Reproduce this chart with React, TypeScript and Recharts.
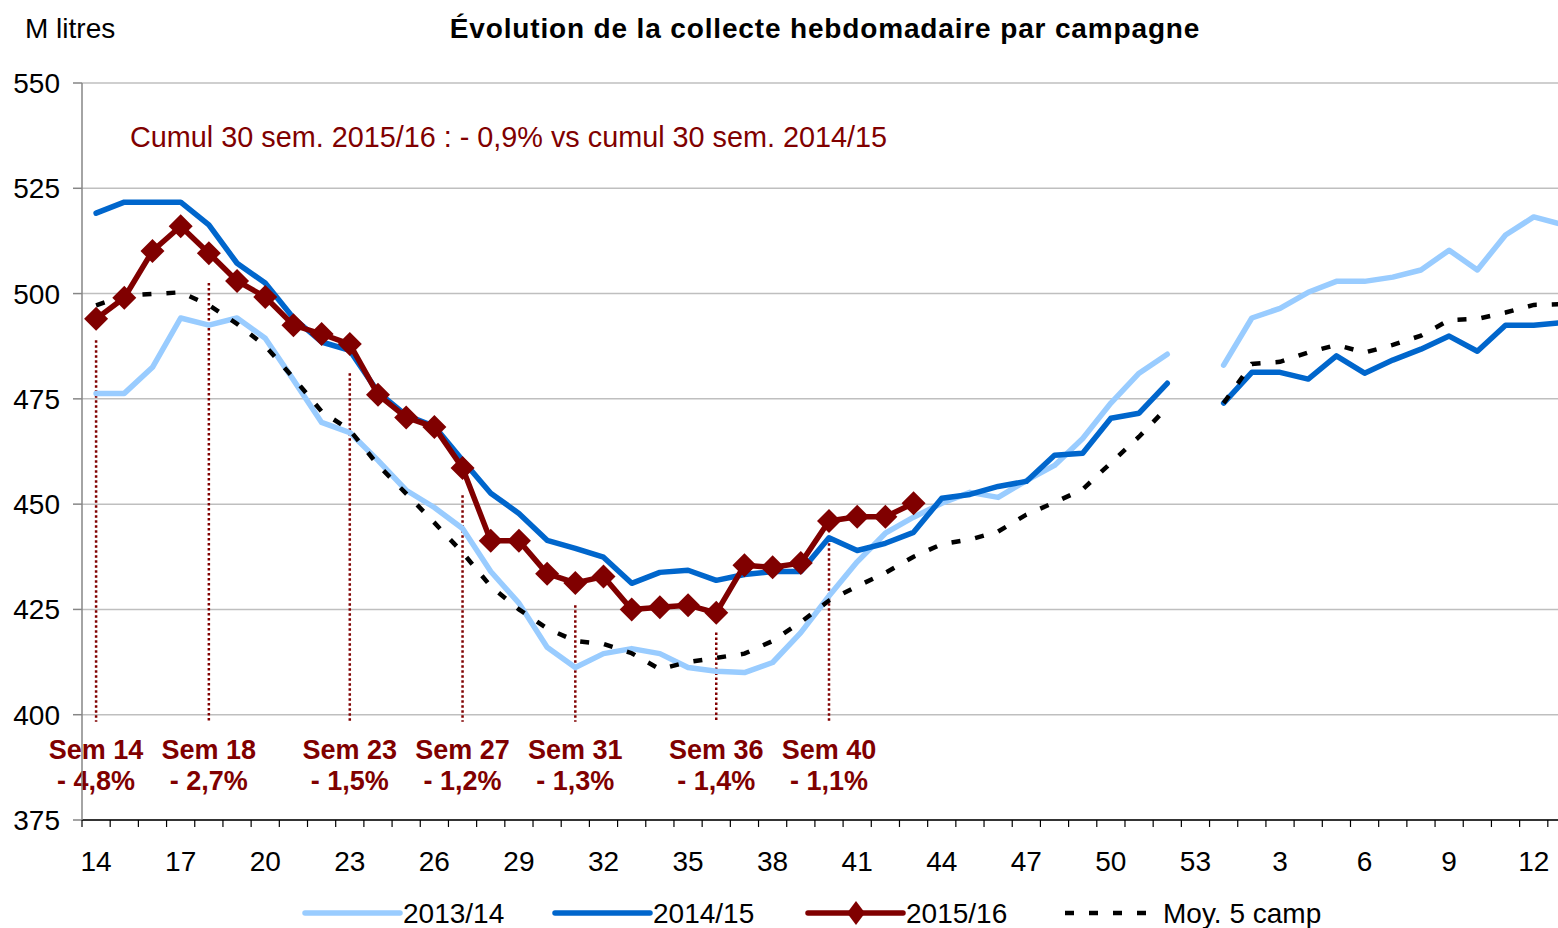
import React from "react";
import { LineChart, Line, XAxis, YAxis, CartesianGrid, ReferenceLine } from "recharts";

// semaines de campagne : 14 → 53 puis 1 → 13
const weeks = [
  "14", "15", "16", "17", "18", "19", "20", "21", "22", "23", "24", "25", "26", "27",
  "28", "29", "30", "31", "32", "33", "34", "35", "36", "37", "38", "39", "40", "41",
  "42", "43", "44", "45", "46", "47", "48", "49", "50", "51", "52", "53",
  "1", "2", "3", "4", "5", "6", "7", "8", "9", "10", "11", "12", "13",
];

const s1314 = [
  476.3, 476.3, 482.5, 494.2, 492.5, 494.2, 489.4, 479.5, 469.4, 467.0, 460.4, 453.3, 449.2, 444.2,
  434.0, 426.5, 416.0, 411.2, 414.5, 415.7, 414.5, 411.2, 410.3, 410.0, 412.4, 419.5, 428.2, 436.3,
  443.1, 446.9, 450.2, 452.8, 451.6, 455.6, 459.2, 465.6, 474.0, 481.1, 485.6, null,
  483.0, 494.2, 496.5, 500.3, 502.9, 502.9, 503.9, 505.6, 510.3, 505.6, 513.9, 518.2, 516.4,
];

const s1415 = [
  519.1, 521.7, 521.7, 521.7, 516.3, 507.2, 502.5, 494.2, 488.5, 486.5, 476.6, 471.1, 468.5, 460.4,
  452.6, 447.8, 441.4, 439.5, 437.4, 431.2, 433.8, 434.3, 431.9, 433.3, 434.0, 434.0, 442.0, 439.0,
  440.7, 443.3, 451.4, 452.3, 454.2, 455.4, 461.6, 462.1, 470.4, 471.6, 478.7, null,
  474.0, 481.3, 481.3, 479.7, 485.2, 481.1, 484.2, 486.8, 489.9, 486.3, 492.5, 492.5, 493.1,
];

const s1516 = [
  494.0, 499.0, 510.1, 516.0, 509.6, 503.0, 499.2, 492.5, 490.4, 488.0, 476.0, 470.6, 468.3, 458.6,
  441.3, 441.3, 433.5, 431.3, 432.8, 425.0, 425.5, 426.0, 424.2, 435.5, 435.0, 436.0, 446.0, 447.0,
  447.0, 450.2,
];

const avg5 = [
  497.2, 499.5, 499.9, 500.3, 497.3, 492.8, 487.6, 480.0, 472.0, 467.6, 459.3, 452.5, 445.6, 438.5,
  430.5, 425.0, 420.5, 417.5, 416.8, 414.6, 410.8, 412.5, 413.5, 414.5, 417.5, 422.0, 427.1, 430.5,
  433.7, 437.5, 440.5, 441.6, 443.5, 447.5, 450.4, 453.5, 459.8, 466.0, 473.0, null,
  474.0, 483.3, 483.8, 486.0, 487.8, 486.0, 487.8, 490.0, 493.7, 494.0, 495.5, 497.3, 497.5,
];

const seriesNames = ["2013/14", "2014/15", "2015/16", "Moy. 5 camp"];
const yTicks = [375, 400, 425, 450, 475, 500, 525, 550];

// repères hebdomadaires (écart 2015/16 vs 2014/15)
const markWeeks = ["14", "18", "23", "27", "31", "36", "40"];
const markTops = [488.9, 502.5, 481.1, 452.1, 426.0, 419.5, 440.7];
const markPct = ["- 4,8%", "- 2,7%", "- 1,5%", "- 1,2%", "- 1,3%", "- 1,4%", "- 1,1%"];
const MARK_BOTTOM = 398.3;

const data = weeks.map((w, i) => ({
  week: w,
  a: s1314[i],
  b: s1415[i],
  c: i < s1516.length ? s1516[i] : null,
  d: avg5[i],
}));

const FONT = "'Liberation Sans', Arial, sans-serif";
const MAROON = "#800000";
const LIGHT = "#99CCFF";
const BLUE = "#0066CC";

const W = 1600;
const H = 928;
const PLOT_LEFT = 82;
const PLOT_RIGHT = 1576;
const BAND = (PLOT_RIGHT - PLOT_LEFT) / weeks.length;

function WeekTick(props: any) {
  const { x, y, payload, index } = props;
  return (
    <g>
      <line x1={x - BAND / 2} x2={x - BAND / 2} y1={y} y2={y + 7} stroke="#000" strokeWidth={1.2} />
      {index % 3 === 0 && (
        <text x={x} y={y + 51} textAnchor="middle" fontSize={28} fill="#000" fontFamily={FONT}>
          {payload.value}
        </text>
      )}
    </g>
  );
}

function Diamond(props: any) {
  const { cx, cy, index } = props;
  if (cx == null || cy == null || props.value == null) return <g key={`dm-${index}`} />;
  const r = 12;
  return (
    <polygon
      key={`dm-${index}`}
      points={`${cx},${cy - r} ${cx + r},${cy} ${cx},${cy + r} ${cx - r},${cy}`}
      fill={MAROON}
    />
  );
}

function markLabel(i: number) {
  return (p: any) => {
    const vb = p.viewBox || {};
    const x = vb.x + (vb.width || 0) / 2;
    return (
      <g>
        <text x={x} y={759} textAnchor="middle" fontSize={27} fontWeight="bold" fill={MAROON} fontFamily={FONT}>
          {`Sem ${markWeeks[i]}`}
        </text>
        <text x={x} y={790} textAnchor="middle" fontSize={27} fontWeight="bold" fill={MAROON} fontFamily={FONT}>
          {markPct[i]}
        </text>
      </g>
    );
  };
}

const legendItems = [
  { name: seriesNames[0], color: LIGHT, dash: undefined, diamond: false, x: 305 },
  { name: seriesNames[1], color: BLUE, dash: undefined, diamond: false, x: 555 },
  { name: seriesNames[2], color: MAROON, dash: undefined, diamond: true, x: 808 },
  { name: seriesNames[3], color: "#000", dash: "9 15", diamond: false, x: 1065 },
];

export default function App() {
  return (
    <div
      style={{
        position: "absolute",
        left: 0,
        top: 0,
        width: 1558,
        height: 928,
        overflow: "hidden",
        background: "#fff",
        fontFamily: FONT,
      }}
    >
      <LineChart width={W} height={H} data={data} margin={{ top: 83, right: W - PLOT_RIGHT, bottom: 0, left: 0 }}>
        <CartesianGrid vertical={false} stroke="#BFBFBF" strokeWidth={1.5} />
        <XAxis
          dataKey="week"
          interval={0}
          height={H - 820}
          padding={{ left: BAND / 2, right: BAND / 2 }}
          tick={<WeekTick />}
          tickLine={false}
          tickSize={0}
          tickMargin={0}
          axisLine={{ stroke: "#000", strokeWidth: 1.5 }}
        />
        <YAxis
          width={PLOT_LEFT}
          domain={[375, 550]}
          ticks={yTicks}
          interval={0}
          tickSize={9}
          tickMargin={13}
          tick={{ fontSize: 28, fill: "#000", fontFamily: FONT }}
          tickLine={{ stroke: "#868686", strokeWidth: 1.5 }}
          axisLine={{ stroke: "#868686", strokeWidth: 1.5 }}
        />
        {markWeeks.map((w, i) => (
          <ReferenceLine
            key={w}
            segment={[
              { x: w, y: markTops[i] },
              { x: w, y: MARK_BOTTOM },
            ]}
            stroke={MAROON}
            strokeWidth={2.5}
            strokeDasharray="2.5 2.5"
            ifOverflow="visible"
            label={markLabel(i)}
          />
        ))}
        <Line
          dataKey="a"
          name={seriesNames[0]}
          stroke={LIGHT}
          strokeWidth={5.5}
          dot={false}
          isAnimationActive={false}
          strokeLinejoin="round"
          strokeLinecap="round"
        />
        <Line
          dataKey="b"
          name={seriesNames[1]}
          stroke={BLUE}
          strokeWidth={5.5}
          dot={false}
          isAnimationActive={false}
          strokeLinejoin="round"
          strokeLinecap="round"
        />
        <Line
          dataKey="c"
          name={seriesNames[2]}
          stroke={MAROON}
          strokeWidth={5.5}
          dot={<Diamond />}
          isAnimationActive={false}
          strokeLinejoin="round"
        />
        <Line
          dataKey="d"
          name={seriesNames[3]}
          stroke="#000"
          strokeWidth={4.5}
          strokeDasharray="9 15"
          dot={false}
          isAnimationActive={false}
        />
      </LineChart>

      <svg
        width={1558}
        height={928}
        style={{ position: "absolute", left: 0, top: 0, pointerEvents: "none" }}
        fontFamily={FONT}
      >
        <text x={25} y={38} fontSize={28} fill="#000">M litres</text>
        <text x={825} y={38} fontSize={28} fontWeight="bold" fill="#000" textAnchor="middle" letterSpacing={0.85}>
          Évolution de la collecte hebdomadaire par campagne
        </text>
        <text x={130} y={147} fontSize={28.8} fill={MAROON}>
          Cumul 30 sem. 2015/16 : - 0,9% vs cumul 30 sem. 2014/15
        </text>
        {legendItems.map((it) => (
          <g key={it.name}>
            <line
              x1={it.x}
              x2={it.x + 95}
              y1={913}
              y2={913}
              stroke={it.color}
              strokeWidth={it.dash ? 4.5 : 5.5}
              strokeDasharray={it.dash}
              strokeLinecap={it.dash ? "butt" : "round"}
            />
            {it.diamond && (
              <polygon points={`${it.x + 48},${901} ${it.x + 57},${913} ${it.x + 48},${925} ${it.x + 39},${913}`} fill={MAROON} />
            )}
            <text x={it.x + 98} y={923} fontSize={28} fill="#000">
              {it.name}
            </text>
          </g>
        ))}
      </svg>
    </div>
  );
}
